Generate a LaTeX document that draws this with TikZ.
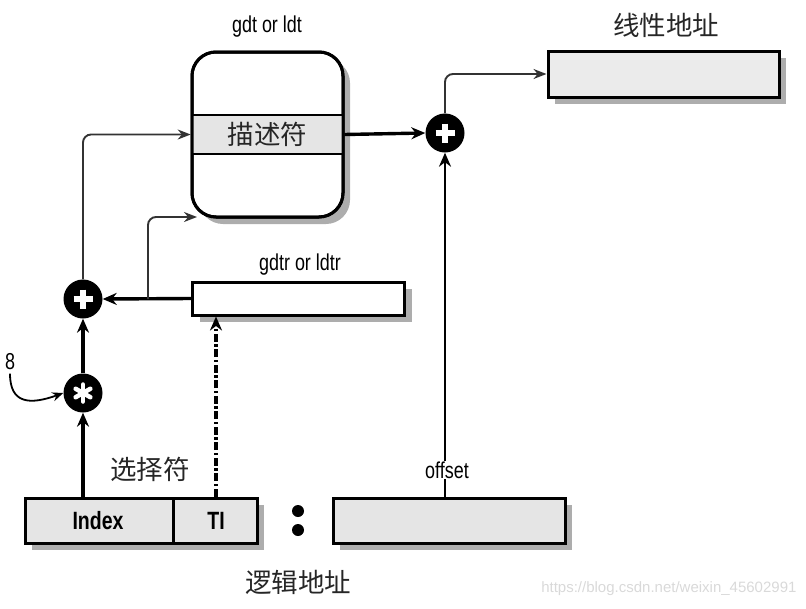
\documentclass[tikz,border=0pt]{standalone}
\usepackage{fontspec}
\setmainfont{Liberation Sans}
\newfontfamily\cond{Liberation Sans}[FakeStretch=0.78]
\newfontfamily\cjk{Noto Sans CJK SC}
\usetikzlibrary{arrows.meta,shadows,calc}
\begin{document}
\begin{tikzpicture}[x=1pt,y=-1pt,
  box/.style={draw,line width=3pt,inner sep=0pt,
    drop shadow={shadow xshift=7pt,shadow yshift=-7pt,fill=black!40,opacity=0.8}},
  opcirc/.style={circle,fill=black,minimum size=39pt,inner sep=0pt},
  thickarr/.style={line width=3.4pt,-{Stealth[length=14pt,width=12pt]}},
  thinarr/.style={line width=1.9pt,draw=black!80,rounded corners=8pt,-{Stealth[length=13pt,width=10pt]}},
  lbl/.style={font=\cond\fontsize{23}{23}\selectfont,inner sep=1pt},
  cjklbl/.style={font=\cjk\fontsize{26.5}{26.5}\selectfont,text=black!85,inner sep=1pt},
  plus/.style={white,line width=5.5pt}]
\useasboundingbox (0,0) rectangle (806,608);

% gdt/ldt table
\node[box,rounded corners=24pt,fill=white,minimum width=151pt,minimum height=165pt] (gdt) at (267.5,134.5) {};
\node[draw,line width=2.6pt,fill=black!10,minimum width=151pt,minimum height=39pt,inner sep=0pt] (desc) at (267.5,134.5) {};
\node[cjklbl] at (desc) {描述符};
\draw[line width=3pt,rounded corners=24pt] (192,52) rectangle (343,217);
\node[lbl] (gdtlbl) at (267,27) {gdt or ldt};

% linear address
\node[box,fill=black!8,minimum width=231pt,minimum height=46pt] (lin) at (663.5,74) {};
\node[cjklbl] (linlbl) at (666,25) {线性地址};

% gdtr
\node[box,fill=white,minimum width=212pt,minimum height=33pt] (gdtr) at (298.5,298.5) {};
\node[lbl] (gdtrlbl) at (300,265) {gdtr or ldtr};

% selector
\node[box,fill=black!10,minimum width=232pt,minimum height=45pt] (sel) at (141,520.5) {};
\draw[line width=3pt] (173,498) -- (173,543);
\node[font=\cond\bfseries\fontsize{25}{25}\selectfont] (idx) at (98,521) {Index};
\node[font=\cond\bfseries\fontsize{25}{25}\selectfont] (ti) at (216,521) {TI};
\node[cjklbl] (sellbl) at (150,469) {选择符};

% colon
\fill (298,511) circle (6pt);
\fill (298,530) circle (6pt);

% offset
\node[box,fill=black!10,minimum width=232pt,minimum height=45pt] (off) at (449,520.5) {};
\node[cjklbl] (loglbl) at (298,582) {逻辑地址};

% operators
\node[opcirc] (p1) at (445,133) {};
\draw[plus] ($(p1)+(-9.5,0)$) -- ($(p1)+(9.5,0)$);
\draw[plus] ($(p1)+(0,-9.5)$) -- ($(p1)+(0,9.5)$);
\node[opcirc] (p2) at (83,299) {};
\draw[plus] ($(p2)+(-9.5,0)$) -- ($(p2)+(9.5,0)$);
\draw[plus] ($(p2)+(0,-9.5)$) -- ($(p2)+(0,9.5)$);
\node[opcirc] (st) at (83,393) {};
\foreach \a in {90,150,210,270,330,30}
  \draw[white,line width=4.5pt,line cap=round] (st.center) -- ++(\a:8.5);

% connectors
\draw[thickarr] (desc.east) -- (p1.west);
\draw[thinarr] (p1.north) |- (lin.west);
\draw[line width=2.6pt,-{Stealth[length=14pt,width=12pt]}] (off.north -| p1) -- (p1.south);
\node[lbl,fill=white] (offlbl) at (447,470) {offset};
\draw[thickarr] (gdtr.west) -- (p2.east);
\coordinate (j) at (148,299);
\coordinate (gin) at (197,217);
\draw[thinarr] (j) |- (gin);
\draw[thinarr] (p2.north) |- (desc.west);
\draw[thickarr] (st.north) -- (p2.south);
\draw[thickarr] (sel.north -| st) -- (st.south);
\draw[line width=3.4pt,dash pattern=on 8pt off 2.5pt on 2.5pt off 2.5pt,-{Stealth[length=14pt,width=12pt]}] (sel.north -| ti) -- (gdtr.south -| ti);

% constant 8
\node[font=\cond\fontsize{23}{23}\selectfont] (eight) at (10,362) {8};
\draw[line width=1.8pt,-{Stealth[length=11pt,width=9pt]}] (eight.south) .. controls (10,404) and (30,405) .. (st.west);

% watermark
\node[font=\fontsize{15}{15}\selectfont,text=black!15,anchor=east] (wm) at (800,589) {https://blog.csdn.net/weixin\_45602991};
\end{tikzpicture}
\end{document}
